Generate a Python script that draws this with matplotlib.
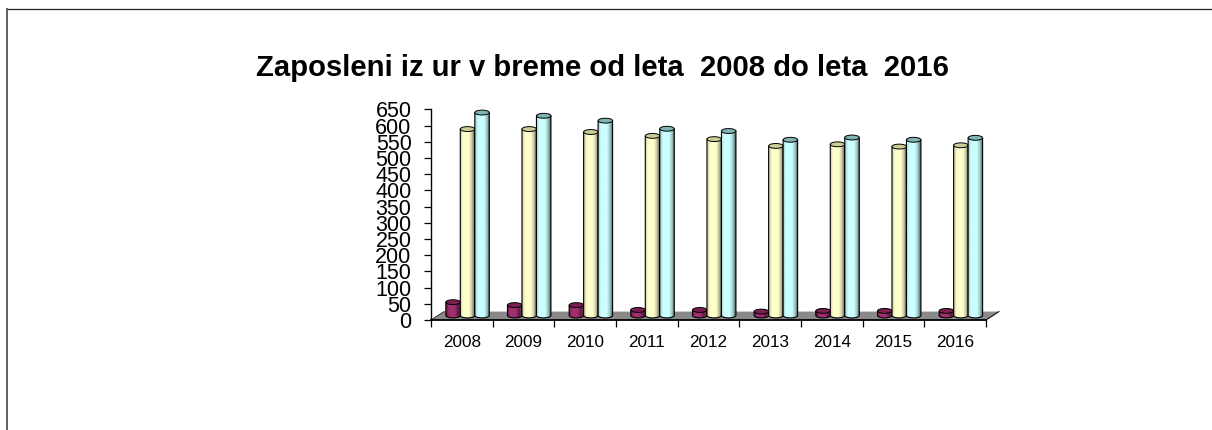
import numpy as np
import matplotlib
matplotlib.use("Agg")
import matplotlib.pyplot as plt
from matplotlib.patches import Ellipse, PathPatch, Polygon
from matplotlib.path import Path
from matplotlib.colors import LinearSegmentedColormap
from matplotlib.lines import Line2D

years = ["2008", "2009", "2010", "2011", "2012", "2013", "2014", "2015", "2016"]
series_a = [55, 46, 46, 31, 31, 26, 28, 28, 28]
series_b = [589, 589, 580, 568, 558, 537, 542, 535, 539]
series_c = [640, 630, 615, 590, 583, 556, 563, 556, 562]
y_ticks = list(range(0, 651, 50))
title = "Zaposleni iz ur v breme od leta  2008 do leta  2016"

plt.rcParams["font.family"] = ["Liberation Sans", "DejaVu Sans"]
W, H = 1212, 430
fig = plt.figure(figsize=(W / 100, H / 100), dpi=100, facecolor="white")
L, R, T, B = 431, 986, 109.3, 320
ax = fig.add_axes([L / W, 1 - B / H, (R - L) / W, (B - T) / H])
ax.set_xlim(0, 9)
ax.set_ylim(0, 650)
ax.patch.set_visible(False)

# frame of the picture
fig.add_artist(Line2D([6.5 / W, 1], [1 - 8.5 / H] * 2, color="#222222", lw=0.9))
fig.add_artist(Line2D([7 / W] * 2, [0, 1 - 8.5 / H], color="#555555", lw=1.3))

# floor
ddx, ddy = 13 / 61.7, 26
ax.add_patch(Polygon([(0, 0), (9, 0), (9 + ddx, ddy), (ddx, ddy)], closed=True,
                     facecolor="#8A8A8A", edgecolor="none",
                     clip_on=False, zorder=1))
ax.plot([0, ddx], [0, ddy], color="#333333", lw=0.7, clip_on=False, zorder=1.1)
ax.plot([9, 9 + ddx], [0, ddy], color="#111111", lw=0.8, clip_on=False, zorder=1.1)

BW = 0.235
BASE = 14
EH = 15


def cyl(x, v, face, top, dark, z):
    x0, x1 = x, x + BW
    xc = (x0 + x1) / 2
    t = np.linspace(np.pi, 2 * np.pi, 30)
    bx = xc + BW / 2 * np.cos(t)
    by = BASE + EH / 2 * np.sin(t)
    verts = [(x0, v)] + list(zip(bx, by)) + [(x1, v), (x0, v)]
    path = Path(verts, closed=False)
    cmap = LinearSegmentedColormap.from_list(
        "c", [dark, face, face, face, dark, "#555555"])
    im = ax.imshow(np.linspace(0, 1, 64).reshape(1, -1), extent=(x0, x1, 0, v + 5),
                   cmap=cmap, aspect="auto", zorder=z, interpolation="bilinear")
    patch = PathPatch(path, facecolor="none", edgecolor="black", lw=0.8,
                      zorder=z + 0.1, clip_on=False)
    ax.add_patch(patch)
    im.set_clip_path(patch)
    ax.add_patch(Ellipse((xc, v), BW, EH, facecolor=top, edgecolor="black", lw=0.7,
                         zorder=z + 0.2, clip_on=False))


for i in range(len(years)):
    z = 2 + i
    cyl(i + 0.24, series_a[i], "#A03070", "#7A1F50", "#66163F", z)
    cyl(i + 0.475, series_b[i], "#FFFFCC", "#CCCC99", "#C8C8A0", z + 0.3)
    cyl(i + 0.71, series_c[i], "#CCFFFF", "#80B4B4", "#9CCCCC", z + 0.6)

ax.set_xlim(0, 9)
ax.set_ylim(0, 650)

for s in ("top", "right"):
    ax.spines[s].set_visible(False)
ax.spines["left"].set_linewidth(1.0)
ax.spines["bottom"].set_linewidth(1.3)
ax.set_yticks(y_ticks)
ax.set_yticklabels([str(v) for v in y_ticks], fontsize=15.5)
ax.tick_params(axis="y", length=5, width=0.9, pad=9)
ax.set_xticks(np.arange(10))
ax.set_xticklabels([""] * 10)
ax.tick_params(axis="x", length=5, width=0.9)
ax.set_xticks(np.arange(9) + 0.5, minor=True)
ax.set_xticklabels(years, minor=True, fontsize=12.3)
ax.tick_params(axis="x", which="minor", length=0, pad=11)

fig.text(602 / W, 1 - 67.5 / H, title, fontsize=21.1, fontweight="bold",
         ha="center", va="center", color="black")

fig.savefig("out.png", dpi=100)
